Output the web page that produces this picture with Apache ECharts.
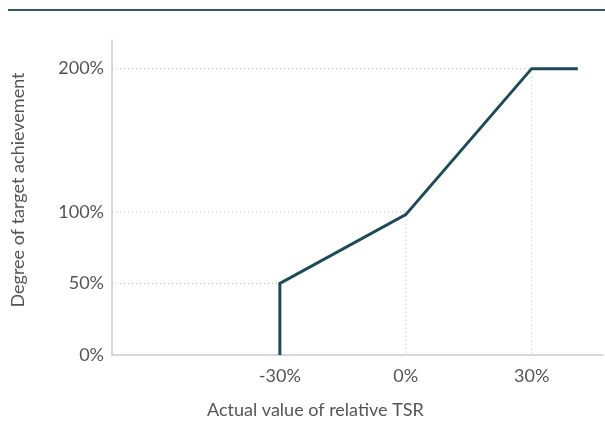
<!DOCTYPE html>
<html>
<head>
<meta charset="utf-8">
<script src="https://cdn.jsdelivr.net/npm/echarts@6/dist/echarts.min.js"></script>
<style>
  html,body{margin:0;padding:0;background:#fff;}
  #chart{width:605px;height:441px;}
</style>
</head>
<body>
<div id="chart"></div>
<script>
/* 数据 */
const tsrValues = [-30, -30, 0, 30, 41];          // x: actual value of relative TSR (%)
const achievement = [0, 50, 98, 200, 200];         // y: degree of target achievement (%)
const xTickValues = [-30, 0, 30];
const yTickValues = [0, 50, 100, 200];
// guide lines: [x where the dotted guide meets the curve, y tick]
const guideX = [-30, 0, 30];
const guideY = [50, 100, 200];

const xMin = -70, xMax = 47, yMax = 220;
const lineColor = "#1d4a59";
const axisColor = "#cccccc";
const textColor = "#555555";
const font = "Lato, 'Open Sans', sans-serif";

const curve = tsrValues.map((v, i) => [v, achievement[i]]);

const guides = [];
guideX.forEach((gx, i) => {
  const gy = guideY[i];
  guides.push({
    type: "line", silent: true, symbol: "none", z: 1,
    data: [[xMin, gy], [gx, gy]],
    lineStyle: {color: "#bdbdbd", width: 1, type: [1, 3]}
  });
  if (gx !== tsrValues[0]) {
    guides.push({
      type: "line", silent: true, symbol: "none", z: 1,
      data: [[gx, gy], [gx, 0]],
      lineStyle: {color: "#bdbdbd", width: 1, type: [1, 3]}
    });
  }
});

const chart = echarts.init(document.getElementById("chart"));
chart.setOption({
  animation: false,
  grid: {left: 112, right: 2, top: 40, bottom: 86},
  xAxis: {
    type: "value", min: xMin, max: xMax,
    splitLine: {show: false},
    axisTick: {show: false},
    axisLine: {onZero: false, lineStyle: {color: axisColor, width: 1.5}},
    axisLabel: {
      customValues: xTickValues, margin: 12,
      color: textColor, fontSize: 18, fontFamily: font,
      formatter: v => v + "%"
    }
  },
  yAxis: {
    type: "value", min: 0, max: yMax,
    splitLine: {show: false},
    axisTick: {show: false},
    axisLine: {show: true, onZero: false, lineStyle: {color: axisColor, width: 1.5}},
    axisLabel: {
      customValues: yTickValues, margin: 8,
      color: textColor, fontSize: 18, fontFamily: font,
      formatter: v => v + "%"
    }
  },
  graphic: [
    {
      type: "line", z: 10,
      shape: {x1: 8, y1: 10, x2: 605, y2: 10},
      style: {stroke: "#2e5a6b", lineWidth: 2}
    },
    {
      type: "text", left: 207, top: 401,
      style: {text: "Actual value of relative TSR", fill: textColor, fontSize: 18, fontFamily: font}
    },
    {
      type: "text", x: 18, y: 190, rotation: Math.PI / 2,
      style: {
        text: "Degree of target achievement", fill: textColor, fontSize: 18, fontFamily: font,
        align: "center", verticalAlign: "middle"
      }
    }
  ],
  series: [
    ...guides,
    {
      type: "line", symbol: "none", z: 5,
      data: curve,
      lineStyle: {color: lineColor, width: 3, join: "miter"}
    }
  ]
});
</script>
</body>
</html>
